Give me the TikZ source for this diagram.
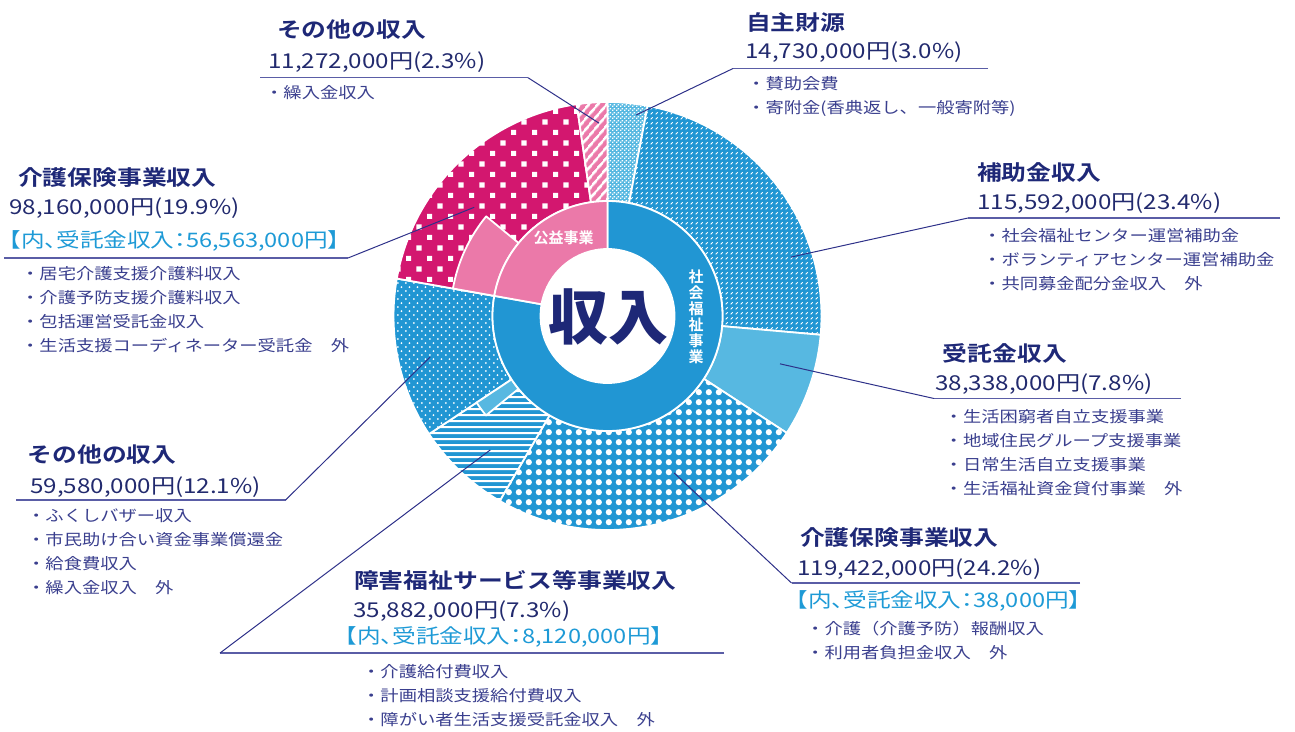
\documentclass[tikz,border=0pt]{standalone}
\usepackage{fontspec}
\IfFontExistsTF{Noto Sans CJK JP Bold}{%
  \setmainfont{Noto Sans CJK JP}[FakeStretch=1.18,BoldFont={Noto Sans CJK JP Bold}]%
  \newfontfamily\ringfont{Noto Sans CJK JP Bold}%
}{%
  \setmainfont{Noto Sans CJK JP}[FakeStretch=1.18,AutoFakeBold=2]%
  \newfontfamily\ringfont{Noto Sans CJK JP}[FakeBold=2]%
}
\IfFontExistsTF{Noto Sans CJK JP Black}{%
  \newfontfamily\heavyfont{Noto Sans CJK JP Black}%
}{%
  \newfontfamily\heavyfont{Noto Sans CJK JP}[FakeBold=4]%
}
\newfontfamily\notefont{Noto Sans CJK JP}[FakeStretch=1.18,RawFeature=+palt]
\usetikzlibrary{patterns.meta}

\definecolor{cblue}{HTML}{2196D3}
\definecolor{clblue}{HTML}{57B8E1}
\definecolor{cmag}{HTML}{D3176F}
\definecolor{cpink}{HTML}{EB79A9}
\definecolor{cnavy}{HTML}{1E2877}
\definecolor{camount}{HTML}{222A6E}
\definecolor{cnote}{HTML}{1E9AD6}
\definecolor{citem}{HTML}{3A3F8E}
\definecolor{cline}{HTML}{2E3189}
\definecolor{culine}{HTML}{5A5DA6}

\tikzdeclarepattern{name=checks,type=uncolored,
  bounding box={(0pt,0pt) and (4pt,4pt)},tile size={(4pt,4pt)},
  code={\fill (0pt,0pt) rectangle (1.7pt,1.7pt); \fill (2pt,2pt) rectangle (3.7pt,3.7pt);}}
\tikzdeclarepattern{name=dashes,type=uncolored,
  bounding box={(0pt,0pt) and (4.5pt,4.5pt)},tile size={(4.5pt,4.5pt)},
  code={\draw[line width=0.9pt] (0.7pt,0.7pt) -- (3pt,3pt);}}
\tikzdeclarepattern{name=bigdots,type=uncolored,
  bounding box={(0pt,0pt) and (10.3pt,10.3pt)},tile size={(10.3pt,10.3pt)},
  code={\fill (5.15pt,5.15pt) circle (3.3pt);}}
\tikzdeclarepattern{name=smalldots,type=uncolored,
  bounding box={(0pt,0pt) and (7.6pt,8.4pt)},tile size={(7.6pt,8.4pt)},
  code={\fill (1.9pt,2.1pt) circle (1.05pt); \fill (5.7pt,6.3pt) circle (1.05pt);}}
\tikzdeclarepattern{name=squares,type=uncolored,
  bounding box={(0pt,0pt) and (21.4pt,21.4pt)},tile size={(21.4pt,21.4pt)},
  code={\fill (0pt,0pt) rectangle (5.2pt,5.2pt); \fill (10.7pt,10.7pt) rectangle (15.9pt,15.9pt);}}
\tikzdeclarepattern{name=hlines,type=uncolored,
  bounding box={(0pt,0pt) and (1400pt,6.2pt)},tile size={(1400pt,6.2pt)},
  code={\fill (0pt,2pt) rectangle (1400pt,4.3pt);}}

\begin{document}
\begin{tikzpicture}[x=1pt,y=1pt]

  \tikzstyle{seg}=[draw=white,line width=1.8pt,line join=round]
  \tikzstyle{jishu}=[seg,fill=clblue,postaction={pattern=checks,pattern color=white}]
  \tikzstyle{hojo}=[seg,fill=cblue,postaction={pattern=dashes,pattern color=white}]
  \tikzstyle{itaku}=[seg,fill=clblue]
  \tikzstyle{kaigo}=[seg,fill=cblue,postaction={pattern=bigdots,pattern color=white}]
  \tikzstyle{shogai}=[seg,fill=cblue,postaction={pattern=hlines,pattern color=white}]
  \tikzstyle{sonota}=[seg,fill=cblue,postaction={pattern=smalldots,pattern color=white}]
  \tikzstyle{kkaigo}=[seg,fill=cmag,postaction={pattern=squares,pattern color=white}]
  \tikzstyle{ksonota}=[seg,fill=cpink,postaction={pattern={Lines[angle=50,distance=6.5pt,line width=2.6pt]},pattern color=white}]
  \tikzstyle{shakai}=[seg,fill=cblue]
  \tikzstyle{koeki}=[seg,fill=cpink]
  \tikzstyle{ringtext}=[text=white,inner sep=0,font=\ringfont\fontsize{15}{16}\selectfont]
  \tikzstyle{title}=[anchor=west,inner sep=0,text=cnavy,font=\bfseries\fontsize{21}{24}\selectfont]
  \tikzstyle{amount}=[anchor=west,inner sep=0,text=camount,font=\fontsize{20.5}{24}\selectfont]
  \tikzstyle{note}=[anchor=west,inner sep=0,text=cnote,font=\notefont\fontsize{20}{24}\selectfont]
  \tikzstyle{items}=[anchor=north west,inner sep=0,align=left,text=citem,font=\fontsize{15.5}{24}\selectfont]
  \tikzstyle{uline}=[draw=culine,line width=1.4pt]
  \tikzstyle{leader}=[draw=cline,line width=1pt]

  \useasboundingbox (0,0) rectangle (1295,-731);

\begin{scope}[shift={(607.5,-316)}]
  \foreach \a/\b/\r/\R/\s in {90/79.2/115/214/jishu, 79.2/-5.04/115/214/hojo,
      -5.04/-33.12/115/214/itaku, -33.12/-120.24/115/214/kaigo,
      -120.24/-146.52/115/214/shogai, -146.52/-190.08/115/214/sonota,
      -190.08/-261.72/115/214/kkaigo, -261.72/-270/115/214/ksonota,
      -190.08/-219.4/115/157/koeki, -146.52/-140.7/115/157/itaku,
      90/-190.08/67/115/shakai, -190.08/-270/67/115/koeki}
    \path[\s] (\a:\r) arc[start angle=\a,end angle=\b,radius=\r]
      -- (\b:\R) arc[start angle=\b,end angle=\a,radius=\R] -- cycle;

  \node[inner sep=0,text=cnavy,font=\heavyfont\fontsize{60}{60}\selectfont] (shunyu) at (0.5,-1) {収入};
  \node[ringtext,align=center] (shakaiT) at (88.5,-1) {社\\会\\福\\祉\\事\\業};
  \node[ringtext] (koekiT) at (-44,78) {公益事業};

  \coordinate (jishuP) at (81.9:203);
  \coordinate (hojoP) at (17.8:192.7);
  \coordinate (itakuP) at (-15.5:179);
  \coordinate (kaigoP) at (-67:170.5);
  \coordinate (shogaiP) at (-131.2:178);
  \coordinate (sonotaP) at (-167:182);
  \coordinate (kkaigoP) at (140.8:172);
  \coordinate (ksonotaP) at (92.5:193);
\end{scope}

  \path (277,-30) node[title] (ksonotaT) {その他の収入}
        (268,-62) node[amount] (ksonotaA) {11,272,000円(2.3\%)}
        (265,-85.2) node[items] (ksonotaI) {・繰入金収入};
  \coordinate (ksonotaK) at (528,-77.7);
  \coordinate (ksonotaU) at (260,-77.7);

  \path (18,-178) node[title] (kkaigoT) {介護保険事業収入}
        (9,-208) node[amount] (kkaigoA) {98,160,000円(19.9\%)}
        (9,-241) node[note] (kkaigoN) {【内、受託金収入：56,563,000円】}
        (21,-266.2) node[items] (kkaigoI) {・居宅介護支援介護料収入\\・介護予防支援介護料収入\\・包括運営受託金収入\\・生活支援コーディネーター受託金　外};
  \coordinate (kkaigoK) at (348,-258);
  \coordinate (kkaigoU) at (4,-258);

  \path (746,-22.3) node[title] (jishuT) {自主財源}
        (745,-52.5) node[amount] (jishuA) {14,730,000円(3.0\%)}
        (747,-76.7) node[items] (jishuI) {・賛助会費\\・寄附金(香典返し、一般寄附等)};
  \coordinate (jishuK) at (733,-68.5);
  \coordinate (jishuU) at (988,-68.5);

  \path (977,-172) node[title] (hojoT) {補助金収入}
        (977,-203) node[amount] (hojoA) {115,592,000円(23.4\%)}
        (983,-228.2) node[items] (hojoI) {・社会福祉センター運営補助金\\・ボランティアセンター運営補助金\\・共同募金配分金収入　外};
  \coordinate (hojoK) at (968,-218);
  \coordinate (hojoU) at (1280,-218);

  \path (942.7,-353.8) node[title] (itakuT) {受託金収入}
        (935,-384.2) node[amount] (itakuA) {38,338,000円(7.8\%)}
        (944.5,-408.9) node[items] (itakuI) {・生活困窮者自立支援事業\\・地域住民グループ支援事業\\・日常生活自立支援事業\\・生活福祉資金貸付事業　外};
  \coordinate (itakuK) at (934,-398.5);
  \coordinate (itakuU) at (1181,-398.5);

  \path (800,-538) node[title] (kaigoT) {介護保険事業収入}
        (797,-569) node[amount] (kaigoA) {119,422,000円(24.2\%)}
        (796,-601) node[note] (kaigoN) {【内、受託金収入：38,000円】}
        (806,-621.2) node[items] (kaigoI) {・介護（介護予防）報酬収入\\・利用者負担金収入　外};
  \coordinate (kaigoK) at (791.5,-583);
  \coordinate (kaigoU) at (1080,-583);

  \path (27.5,-455) node[title] (sonotaT) {その他の収入}
        (30,-487) node[amount] (sonotaA) {59,580,000円(12.1\%)}
        (27,-508.2) node[items] (sonotaI) {・ふくしバザー収入\\・市民助け合い資金事業償還金\\・給食費収入\\・繰入金収入　外};
  \coordinate (sonotaK) at (285.6,-500);
  \coordinate (sonotaU) at (16,-500);

  \path (354,-580) node[title] (shogaiT) {障害福祉サービス等事業収入}
        (353,-611) node[amount] (shogaiA) {35,882,000円(7.3\%)}
        (345,-637) node[note] (shogaiN) {【内、受託金収入：8,120,000円】}
        (362,-664.2) node[items] (shogaiI) {・介護給付費収入\\・計画相談支援給付費収入\\・障がい者生活支援受託金収入　外};
  \coordinate (shogaiK) at (220,-653);
  \coordinate (shogaiU) at (724,-653);

  \foreach \n in {ksonota,kkaigo,jishu,hojo,itaku,kaigo,sonota,shogai}
    \draw[uline] (\n U) -- (\n K);
  \foreach \n in {ksonota,kkaigo,jishu,hojo,itaku,kaigo,sonota,shogai}
    \draw[leader] (\n K) -- (\n P);

\end{tikzpicture}
\end{document}
